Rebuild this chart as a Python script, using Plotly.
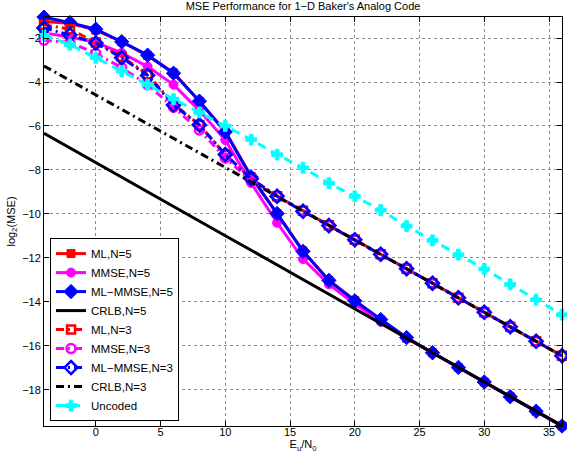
import plotly.graph_objects as go

# ---------------- data ----------------
snr_db = [-4, -2, 0, 2, 4, 6, 8, 10, 12, 14, 16, 18, 20, 22, 24, 26, 28, 30, 32, 34, 36]

ml_n5 = [-1.25, -1.33, -1.64, -2.17, -2.80, -3.58, -4.88, -6.25, -8.30, -9.98, -11.68,
         -13.02, -13.93, -14.82, -15.65, -16.31, -16.98, -17.64, -18.31, -18.97, -19.64]
mmse_n5 = [-1.77, -1.95, -2.20, -2.68, -3.30, -4.12, -5.30, -6.64, -8.60, -10.40, -12.05,
           -13.20, -14.10, -14.90, -15.65, -16.31, -16.98, -17.64, -18.31, -18.97, -19.64]
mlmmse_n5 = [-1.05, -1.30, -1.60, -2.17, -2.78, -3.60, -4.87, -6.27, -8.32, -9.98, -11.70,
             -13.02, -13.95, -14.80, -15.62, -16.31, -16.98, -17.64, -18.31, -18.97, -19.64]
crlb_n5 = [-6.33, -7.00, -7.66, -8.33, -8.99, -9.66, -10.32, -10.99, -11.65, -12.32, -12.98,
           -13.65, -14.31, -14.98, -15.64, -16.31, -16.97, -17.64, -18.30, -18.97, -19.63]

ml_n3 = [-1.40, -1.60, -2.20, -2.85, -3.65, -5.00, -5.95, -7.30, -8.40, -9.19, -9.85,
         -10.51, -11.17, -11.83, -12.49, -13.15, -13.81, -14.47, -15.13, -15.79, -16.45]
mmse_n3 = [-2.10, -2.20, -2.70, -3.35, -4.12, -5.15, -6.18, -7.45, -8.50, -9.22, -9.87,
           -10.52, -11.18, -11.83, -12.49, -13.15, -13.81, -14.47, -15.13, -15.79, -16.45]
mlmmse_n3 = [-1.55, -1.86, -2.23, -2.90, -3.70, -5.05, -5.95, -7.30, -8.40, -9.19, -9.88,
             -10.53, -11.17, -11.83, -12.49, -13.15, -13.81, -14.47, -15.13, -15.79, -16.45]
crlb_n3 = [-3.27, -3.93, -4.59, -5.25, -5.91, -6.57, -7.23, -7.89, -8.54, -9.20, -9.86,
           -10.52, -11.18, -11.84, -12.50, -13.16, -13.82, -14.48, -15.14, -15.80, -16.45]
uncoded = [-1.88, -2.30, -2.90, -3.50, -4.12, -4.78, -5.38, -6.00, -6.62, -7.30, -7.90,
           -8.60, -9.20, -9.82, -10.55, -11.20, -11.85, -12.50, -13.20, -13.90, -14.58]

x_ticks = [0, 5, 10, 15, 20, 25, 30, 35]
y_ticks = [-18, -16, -14, -12, -10, -8, -6, -4, -2]

FONT = "Liberation Sans, Arial, Helvetica, sans-serif"
DASHDOT = "8px,4px,2px,4px"
DASH = "9px,6px"

series = [
    ("ML,N=5", ml_n5, "#ff0000", "solid", "square", 8),
    ("MMSE,N=5", mmse_n5, "#ff00ff", "solid", "circle", 9),
    ("ML\u2212MMSE,N=5", mlmmse_n5, "#0000ff", "solid", "diamond", 11),
    ("CRLB,N=5", crlb_n5, "#000000", "solid", None, 0),
    ("ML,N=3", ml_n3, "#ff0000", DASHDOT, "square-open", 8),
    ("MMSE,N=3", mmse_n3, "#ff00ff", DASHDOT, "circle-open", 9),
    ("ML\u2212MMSE,N=3", mlmmse_n3, "#0000ff", DASHDOT, "diamond-open", 10),
    ("CRLB,N=3", crlb_n3, "#000000", DASHDOT, None, 0),
    ("Uncoded", uncoded, "#00ffff", DASH, "cross", 9),
]

fig = go.Figure()
for name, yv, col, dash, sym, size in series:
    if sym is None:
        mode = "lines"
        marker = None
    else:
        mode = "lines+markers"
        marker = dict(symbol=sym, size=size, color=col,
                      line=dict(color=col, width=2.5 if "open" in sym else 1))
    fig.add_trace(go.Scatter(
        x=snr_db, y=yv, name=name, mode=mode,
        line=dict(color=col, width=3, dash=dash),
        marker=marker, cliponaxis=False,
    ))

axis_common = dict(
    showline=True, linecolor="black", linewidth=1, mirror="ticks",
    ticks="inside", ticklen=5, tickcolor="black", tickwidth=1,
    showgrid=True, gridcolor="#8c8c8c", griddash="dot", gridwidth=1,
    zeroline=False, automargin=False,
    tickfont=dict(family=FONT, size=11, color="black"),
)

fig.update_layout(
    width=567, height=458,
    margin=dict(l=44, r=5, t=17, b=32),
    paper_bgcolor="white", plot_bgcolor="white",
    font=dict(family=FONT, color="black", size=11),
    title=dict(text="MSE Performance for 1\u2212D Baker's Analog Code",
               font=dict(family=FONT, size=11, color="black"),
               x=0.5, xanchor="center", xref="paper", y=0.986, yanchor="middle"),
    xaxis=dict(range=[-4, 36], tickvals=x_ticks, ticklabelstandoff=-4,
               title=dict(text="E<sub>u</sub>/N<sub>0</sub>", standoff=3,
                          font=dict(family=FONT, size=11)),
               **axis_common),
    yaxis=dict(range=[-19.64, -1.045], tickvals=y_ticks,
               title=dict(text="log<sub>2</sub>(MSE)", standoff=4,
                          font=dict(family=FONT, size=11)),
               **axis_common),
    legend=dict(x=0.0116, y=0.012, xanchor="left", yanchor="bottom",
                bgcolor="white", bordercolor="black", borderwidth=1,
                font=dict(family=FONT, size=11.5, color="black"),
                tracegroupgap=0, itemwidth=30),
    showlegend=True,
)

fig.write_html("out.html", config={"displayModeBar": False},
               post_script="document.body.style.margin='0px';document.body.style.overflow='hidden';")
